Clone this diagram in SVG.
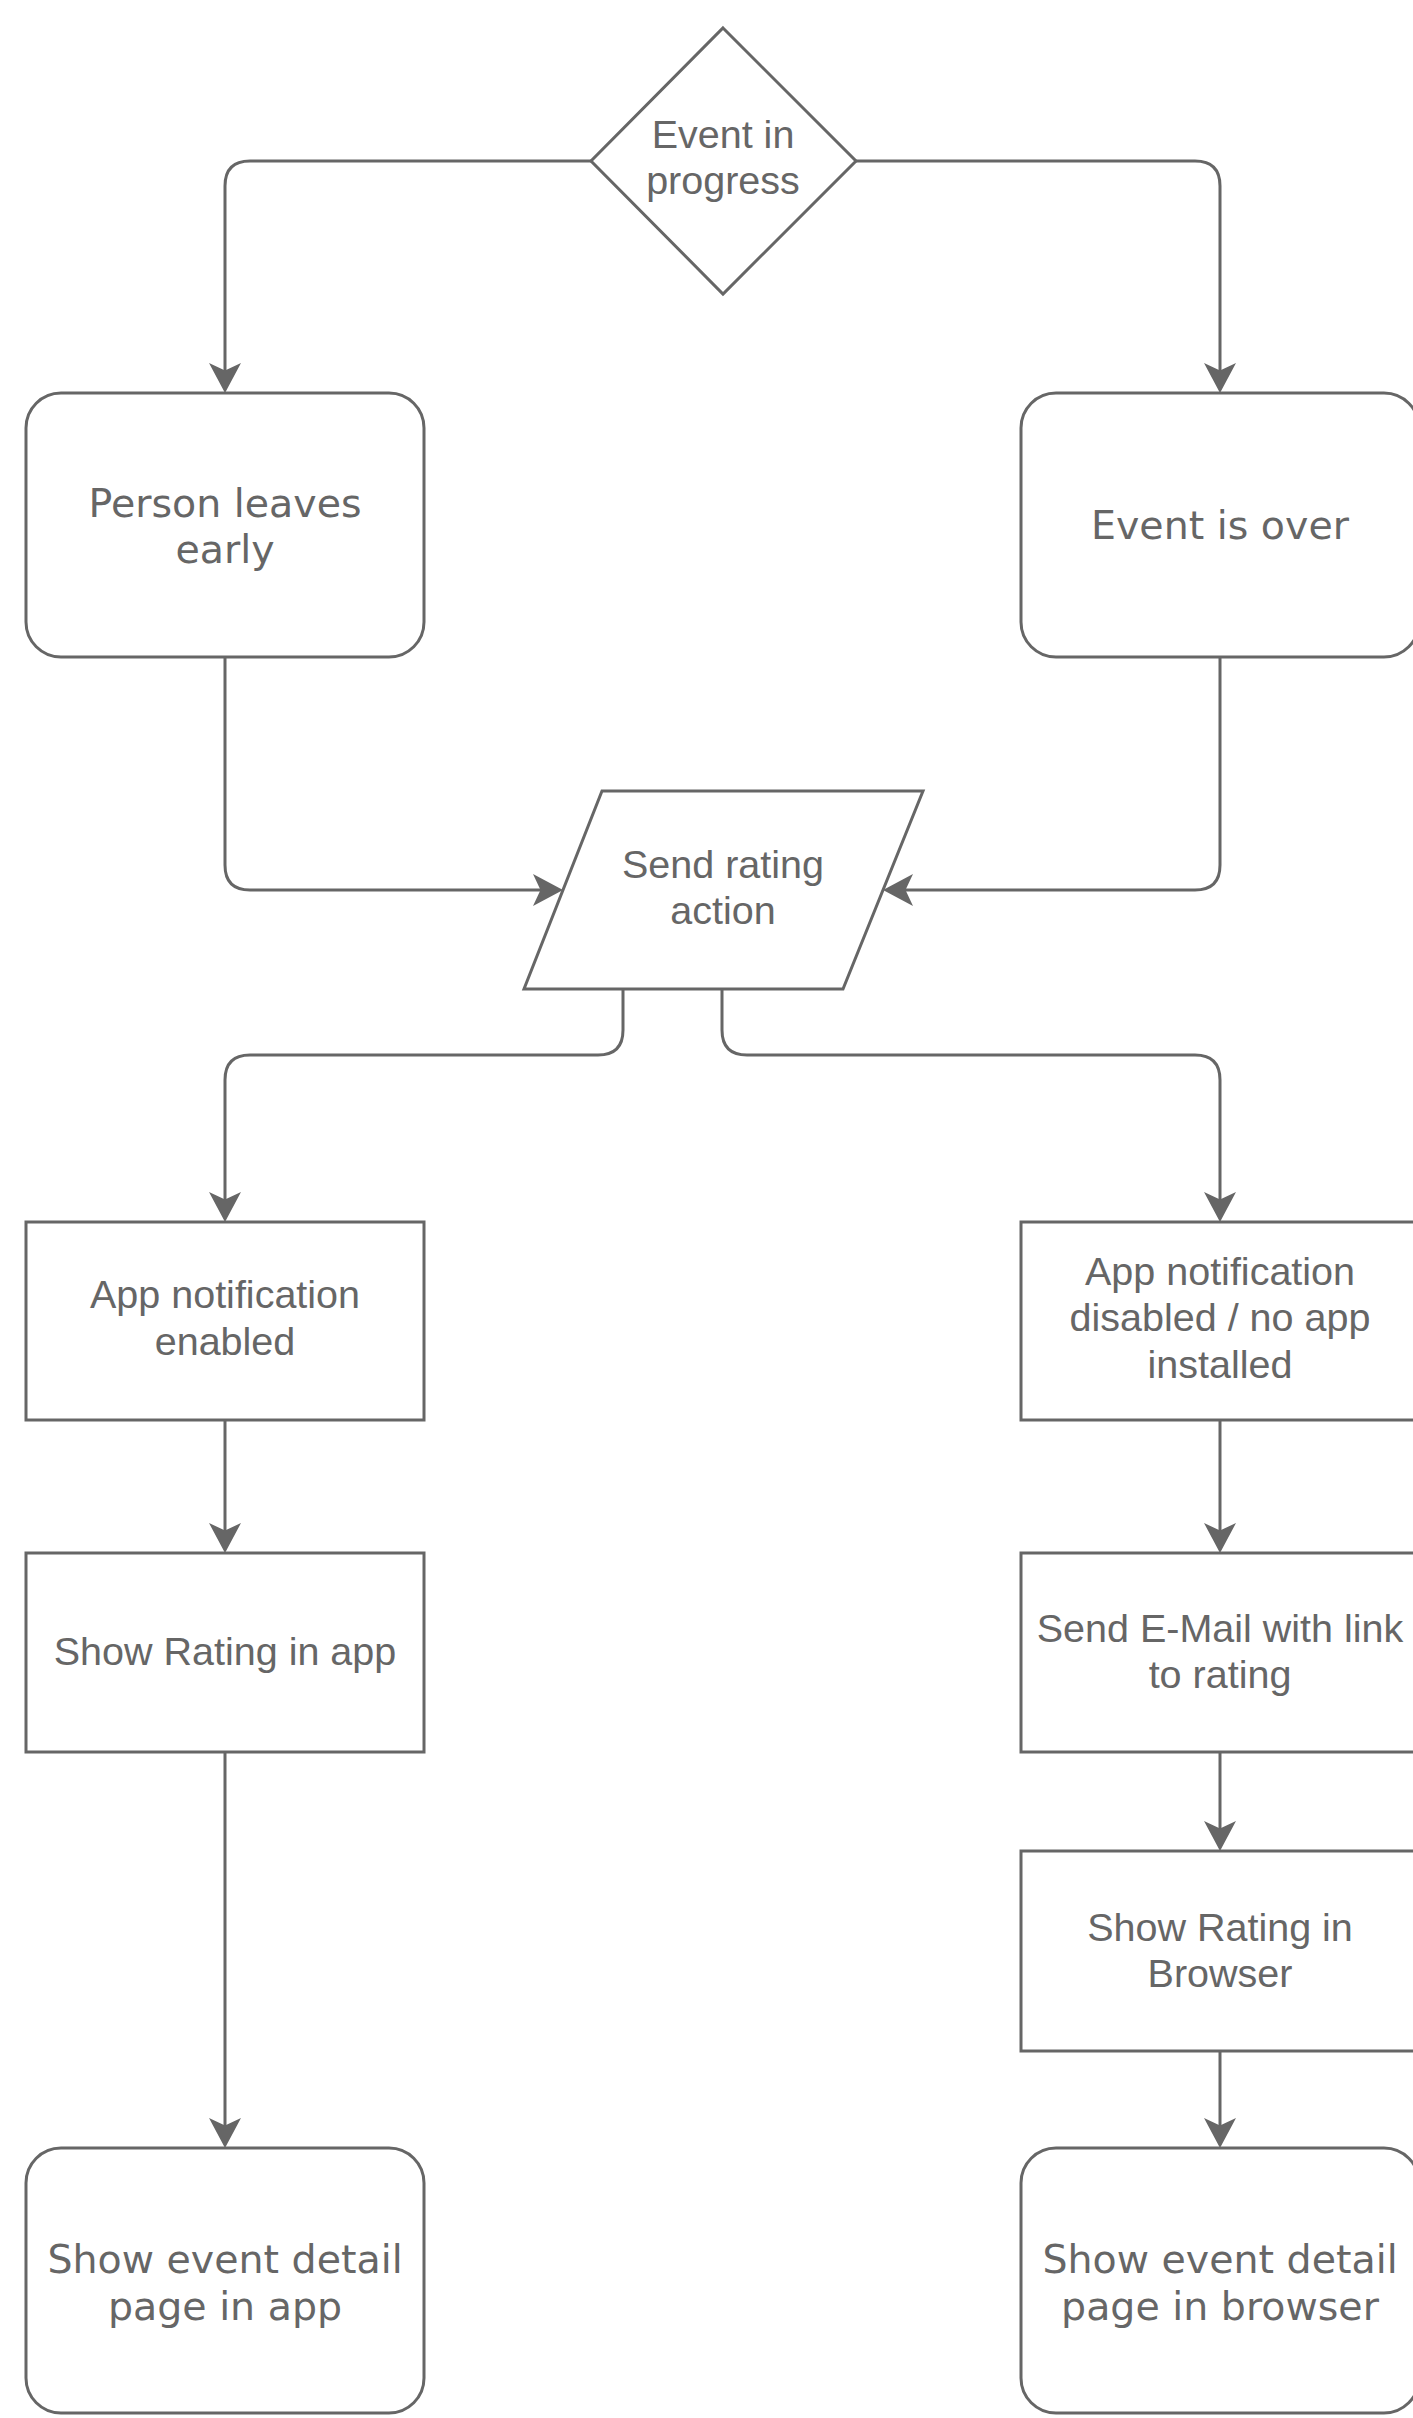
<svg xmlns="http://www.w3.org/2000/svg" width="1413" height="2418" viewBox="0 0 1413 2418">
<style>
  .shape { fill: #ffffff; stroke: #666666; stroke-width: 3; }
  .conn { fill: none; stroke: #666666; stroke-width: 3; marker-end: url(#arrow); }
  .t1 { font-family: "Liberation Sans", Arial, sans-serif; font-size: 39.5px; fill: #666666; text-anchor: middle; }
  .t2 { font-family: "DejaVu Sans", Verdana, sans-serif; font-size: 39.5px; fill: #666666; text-anchor: middle; }
</style>
<defs>
  <marker id="arrow" markerUnits="userSpaceOnUse" viewBox="0 0 30 32" markerWidth="30" markerHeight="32" refX="20" refY="16" orient="auto">
    <path d="M0,0 L30,16 L0,32 L7.5,16 Z" fill="#666666"/>
  </marker>
</defs>
<rect width="1413" height="2418" fill="#ffffff"/>
<g id="connectors">
  <path class="conn" d="M591,161 H250 Q225,161 225,186 V383"/>
  <path class="conn" d="M856,161 H1195 Q1220,161 1220,186 V383"/>
  <path class="conn" d="M225,657 V865 Q225,890 250,890 H553"/>
  <path class="conn" d="M1220,657 V865 Q1220,890 1195,890 H893"/>
  <path class="conn" d="M623,989 V1030 Q623,1055 598,1055 H250 Q225,1055 225,1080 V1212"/>
  <path class="conn" d="M722,989 V1030 Q722,1055 747,1055 H1195 Q1220,1055 1220,1080 V1212"/>
  <path class="conn" d="M225,1420 V1543"/>
  <path class="conn" d="M225,1752 V2138"/>
  <path class="conn" d="M1220,1420 V1543"/>
  <path class="conn" d="M1220,1752 V1841"/>
  <path class="conn" d="M1220,2051 V2138"/>
</g>
<g id="event-in-progress">
  <polygon class="shape" points="723,28 856,161 723,294 591,161"/>
  <text class="t1" x="723" y="148">Event in</text>
  <text class="t1" x="723" y="194">progress</text>
</g>
<g id="person-leaves-early">
  <rect class="shape" x="26" y="393" width="398" height="264" rx="35" ry="35"/>
  <text class="t2" x="225" y="517">Person leaves</text>
  <text class="t2" x="225" y="563">early</text>
</g>
<g id="event-is-over">
  <rect class="shape" x="1021" y="393" width="398" height="264" rx="35" ry="35"/>
  <text class="t2" x="1220" y="539">Event is over</text>
</g>
<g id="send-rating-action">
  <polygon class="shape" points="602,791 923,791 843,989 524,989"/>
  <text class="t1" x="723" y="878">Send rating</text>
  <text class="t1" x="723" y="924">action</text>
</g>
<g id="app-notification-enabled">
  <rect class="shape" x="26" y="1222" width="398" height="198"/>
  <text class="t1" x="225" y="1308">App notification</text>
  <text class="t1" x="225" y="1355">enabled</text>
</g>
<g id="app-notification-disabled">
  <rect class="shape" x="1021" y="1222" width="398" height="198"/>
  <text class="t1" x="1220" y="1285">App notification</text>
  <text class="t1" x="1220" y="1331">disabled / no app</text>
  <text class="t1" x="1220" y="1378">installed</text>
</g>
<g id="show-rating-in-app">
  <rect class="shape" x="26" y="1553" width="398" height="199"/>
  <text class="t1" x="225" y="1665">Show Rating in app</text>
</g>
<g id="send-email">
  <rect class="shape" x="1021" y="1553" width="398" height="199"/>
  <text class="t1" x="1220" y="1642">Send E-Mail with link</text>
  <text class="t1" x="1220" y="1688">to rating</text>
</g>
<g id="show-rating-in-browser">
  <rect class="shape" x="1021" y="1851" width="398" height="200"/>
  <text class="t1" x="1220" y="1941">Show Rating in</text>
  <text class="t1" x="1220" y="1987">Browser</text>
</g>
<g id="show-detail-app">
  <rect class="shape" x="26" y="2148" width="398" height="265" rx="35" ry="35"/>
  <text class="t2" x="225" y="2273">Show event detail</text>
  <text class="t2" x="225" y="2320">page in app</text>
</g>
<g id="show-detail-browser">
  <rect class="shape" x="1021" y="2148" width="398" height="265" rx="35" ry="35"/>
  <text class="t2" x="1220" y="2273">Show event detail</text>
  <text class="t2" x="1220" y="2320">page in browser</text>
</g>
</svg>
